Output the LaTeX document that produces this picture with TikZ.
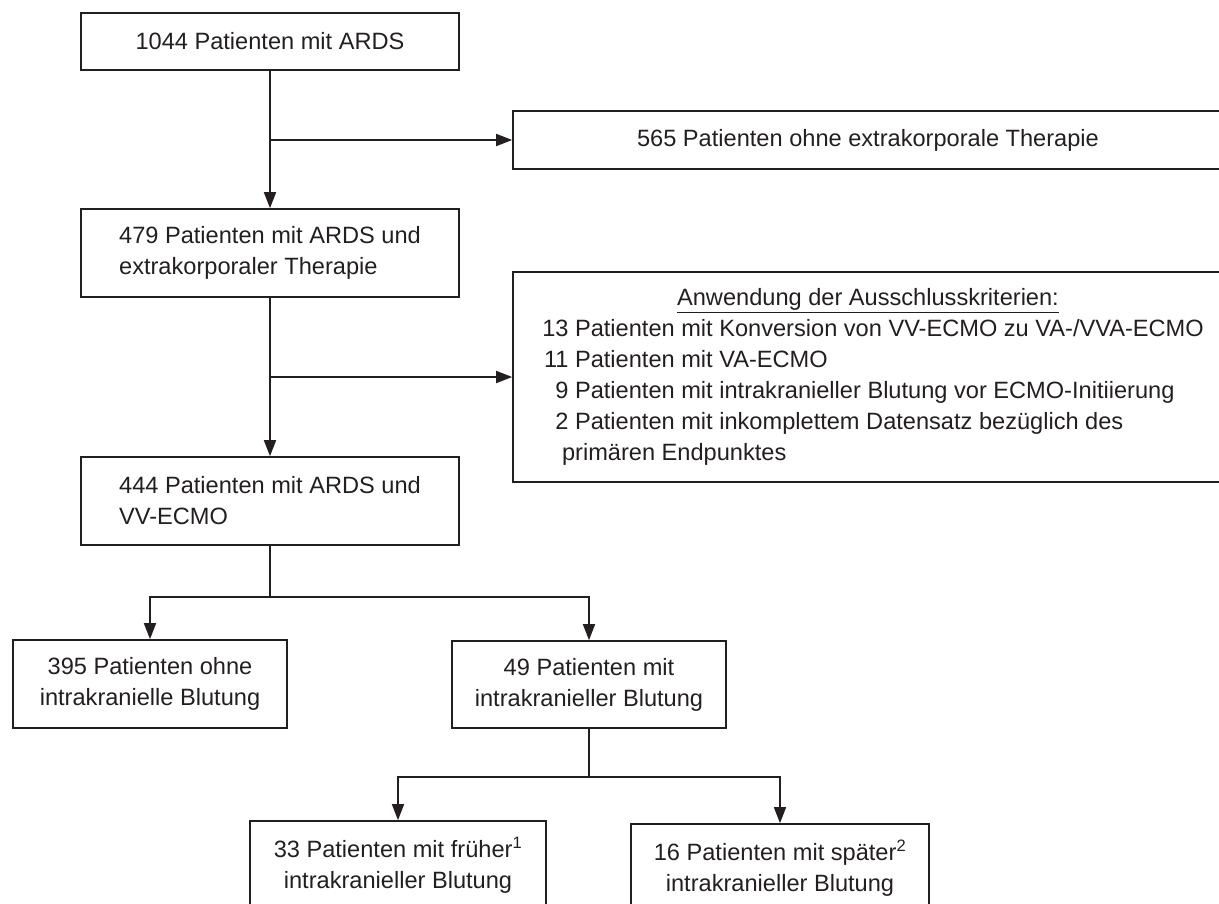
\documentclass[tikz,border=0pt]{standalone}
\usepackage{fontspec}
\setmainfont{Liberation Sans}
\usetikzlibrary{arrows.meta}
\definecolor{ink}{HTML}{231F20}
\begin{document}
\begin{tikzpicture}[x=1pt,y=-1pt,
  box/.style={draw=ink, line width=1.6pt, rectangle, inner sep=0pt, align=center,
    font=\fontsize{23.6}{31}\selectfont, text=ink},
  arr/.style={draw=ink, line width=1.6pt, -{Triangle[length=16pt,width=12pt]}},
  ln/.style={draw=ink, line width=1.6pt}]
\useasboundingbox (0,0) rectangle (1219,903);
\node[box, minimum width=378pt, minimum height=57pt] (b1) at (270,41.5) {1044 Patienten mit ARDS};
\node[box, minimum width=710pt, minimum height=58pt] (b565) at (868,140) {565 Patienten ohne extrakorporale Therapie};
\node[box, align=left, minimum width=378pt, minimum height=88pt] (b2) at (270,253) {479 Patienten mit ARDS und\\extrakorporaler Therapie};
\node[box, minimum width=710pt, minimum height=210pt] (ex) at (868,377) {\hspace*{10pt}\begin{tabular}{@{}r@{\ }l@{}}
\multicolumn{2}{c}{\hspace*{-10pt}\underline{Anwendung der Ausschlusskriterien:}}\\
13 & Patienten mit Konversion von VV-ECMO zu VA-/VVA-ECMO\\
11 & Patienten mit VA-ECMO\\
9 & Patienten mit intrakranieller Blutung vor ECMO-Initiierung\\
2 & Patienten mit inkomplettem Datensatz bezüglich des\\
 & \hspace{-13pt}primären Endpunktes
\end{tabular}};
\node[box, align=left, minimum width=378pt, minimum height=88pt] (b3) at (270,501) {444 Patienten mit ARDS und\\VV-ECMO};
\node[box, minimum width=274pt, minimum height=88pt] (b395) at (150,684) {395 Patienten ohne\\intrakranielle Blutung};
\node[box, minimum width=274pt, minimum height=87pt] (b49) at (589,684.5) {49 Patienten mit\\intrakranieller Blutung};
\node[box, minimum width=296pt, minimum height=88pt] (b33) at (398,865) {33 Patienten mit früher\textsuperscript{1}\\intrakranieller Blutung};
\node[box, minimum width=298pt, minimum height=88pt] (b16) at (780,868) {16 Patienten mit später\textsuperscript{2}\\intrakranieller Blutung};
\coordinate (j1) at (b1.south |- b565.west);
\coordinate (j2) at (b2.south |- ex.west);
\coordinate (j3) at (270,597);
\coordinate (h4) at (0,777);
\coordinate (j4) at (b49.south |- h4);
\draw[arr] (b1) -- (b2);
\draw[arr] (j1) -- (b565);
\draw[arr] (b2) -- (b3);
\draw[arr] (j2) -- (ex);
\draw[ln] (b3) -- (j3);
\draw[arr] (j3) -| (b395);
\draw[arr] (j3) -| (b49);
\draw[ln] (b49) -- (j4);
\draw[arr] (j4) -| (b33);
\draw[arr] (j4) -| (b16);
\end{tikzpicture}
\end{document}
